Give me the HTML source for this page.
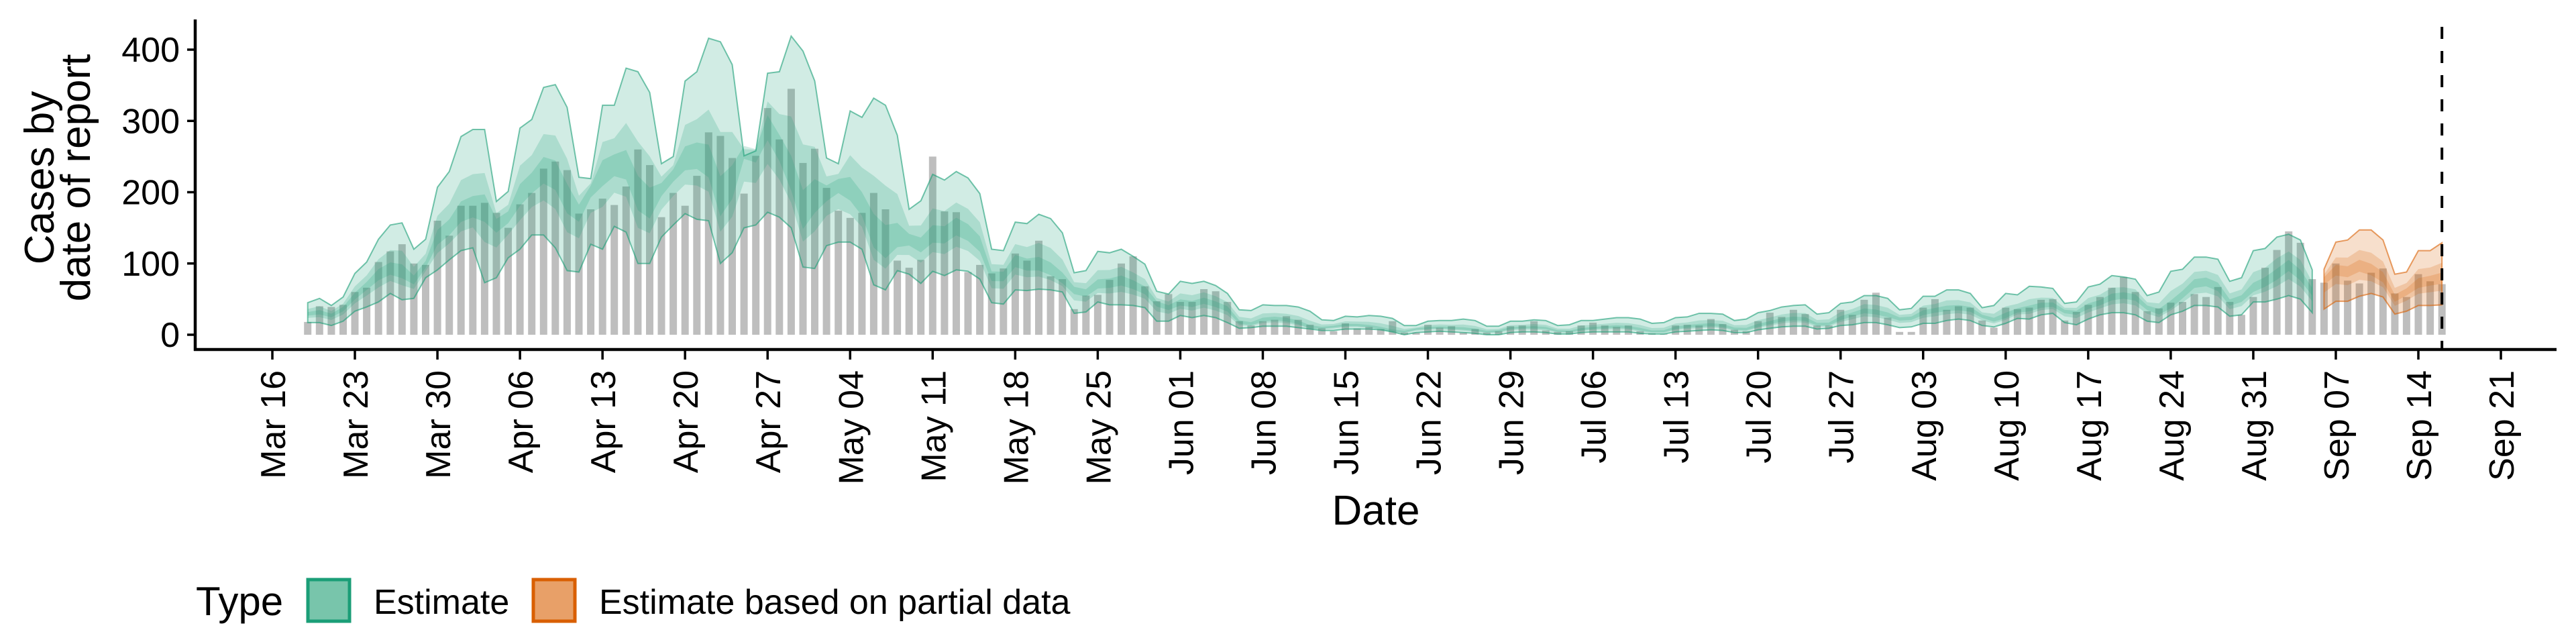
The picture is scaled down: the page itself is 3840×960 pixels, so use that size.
<!DOCTYPE html>
<html><head><meta charset="utf-8"><style>
html,body{margin:0;padding:0;background:#fff;}
svg{display:block;font-family:"Liberation Sans",Arial,sans-serif;}
</style></head><body>
<svg id="chart" width="3840" height="960" viewBox="0 0 3840 960" xmlns="http://www.w3.org/2000/svg">
<g id="bars"></g>
<g id="bands"></g>
<g id="axes"></g>
<text x="2051" y="782" font-size="62" text-anchor="middle">Date</text>
<text transform="translate(80,265) rotate(-90)" font-size="62" text-anchor="middle">Cases by</text>
<text transform="translate(134,265) rotate(-90)" font-size="62" text-anchor="middle">date of report</text>
<g>
<text x="292" y="917" font-size="60">Type</text>
<rect x="459" y="864" width="62" height="62" fill="#78c5ab" stroke="#1b9e77" stroke-width="5"/>
<text x="557" y="915" font-size="52">Estimate</text>
<rect x="795" y="864" width="62" height="62" fill="#e8a068" stroke="#d95f02" stroke-width="5"/>
<text x="893" y="915" font-size="52">Estimate based on partial data</text>
</g>
</svg>
<script>
const tickLabels = ["Mar 16","Mar 23","Mar 30","Apr 06","Apr 13","Apr 20","Apr 27","May 04","May 11","May 18","May 25","Jun 01","Jun 08","Jun 15","Jun 22","Jun 29","Jul 06","Jul 13","Jul 20","Jul 27","Aug 03","Aug 10","Aug 17","Aug 24","Aug 31","Sep 07","Sep 14","Sep 21"];
const yTicks = [0,100,200,300,400];
const firstDay = 3; // data starts Mar 19 (days after Mar 16)
const partialStartIndex = 171; // first index of "partial data" estimates
const reportDay = 184; // dashed line (Sep 16)
const cases = [18,40,39,42,60,66,102,117,127,100,98,160,139,181,181,185,171,150,183,199,233,243,231,170,176,191,182,208,260,238,165,199,181,223,284,279,248,198,251,318,274,345,241,261,206,174,164,171,199,176,104,94,105,
250,173,172,88,98,86,93,114,104,132,82,78,36,55,56,77,100,110,68,47,57,46,46,64,61,46,19,13,19,21,26,21,14,9,5,16,9,11,8,19,3,3,14,10,
12,3,8,3,5,12,13,19,6,4,5,13,17,13,11,13,5,2,1,13,14,13,22,15,7,5,19,31,25,35,29,13,13,35,28,49,59,24,4,4,38,50,
35,40,38,20,10,38,36,38,49,50,20,32,42,53,66,81,60,33,37,45,46,57,53,67,46,28,53,94,119,145,129,78,73,100,76,72,87,93,58,53,85,75,71];
const median = [29,31,27,36,53,68,83,90,86,75,97,134,147,167,174,177,157,167,194,211,228,221,188,174,207,228,238,234,191,177,207,228,244,248,234,181,207,268,261,295,261,214,160,188,201,214,201,177,134,117,130,134,125,
138,138,150,141,125,82,82,102,96,96,88,75,63,58,69,71,75,69,61,44,38,44,42,47,42,36,17,14,20,22,20,16,9,9,11,13,13,11,8,4,4,8,9,10,
9,8,6,4,5,9,10,10,9,5,4,7,9,10,11,10,7,4,4,9,11,12,13,12,8,7,12,16,20,22,21,14,14,22,28,33,31,27,22,23,30,34,
36,37,35,26,20,25,33,35,40,41,33,31,39,44,52,55,52,38,31,39,55,71,74,66,44,50,63,72,83,97,82,60,
78,91,88,96,89,78,50,60,71,75,78];
const upper90 = [45,51,41,53,86,102,134,154,157,120,134,207,229,278,288,288,187,201,290,302,347,351,319,221,219,322,322,374,369,340,240,250,356,369,416,411,379,251,258,367,369,419,398,356,248,240,314,305,332,322,280,176,188,
225,217,229,220,198,120,118,158,156,169,163,143,87,90,117,115,120,110,99,61,57,75,72,75,69,58,35,34,42,41,41,39,33,21,20,26,25,27,26,23,13,13,19,20,
20,22,20,12,12,19,19,21,20,13,14,20,20,22,24,24,22,16,17,24,25,30,30,29,20,22,31,34,39,41,42,29,31,44,46,55,55,51,35,37,54,54,
63,63,58,38,41,58,56,68,67,65,44,46,67,71,83,81,78,55,60,89,92,109,109,106,75,80,118,121,137,141,133,91,
92,130,133,147,147,133,85,88,118,118,129];
const lower90 = [17,17,13,19,33,39,46,58,49,51,80,91,105,118,122,73,80,108,120,140,140,122,90,88,127,120,152,144,100,100,137,154,170,162,160,100,115,150,154,172,165,150,95,93,125,130,130,120,70,63,90,85,72,
89,83,91,89,78,45,43,63,62,64,63,60,30,32,46,42,42,41,38,19,19,27,24,27,24,17,9,10,12,12,12,10,8,6,6,8,8,8,7,4,0,3,4,5,
4,3,2,0,0,3,4,4,3,1,1,3,4,4,4,4,2,1,1,4,5,6,7,6,3,3,7,9,11,12,12,8,9,13,14,17,17,14,10,11,16,16,
20,22,20,13,11,16,23,22,28,30,17,14,22,28,31,31,28,19,17,28,33,41,41,39,26,28,46,46,50,55,50,31,
36,47,47,54,58,53,29,33,41,41,42];

const NS = "http://www.w3.org/2000/svg";
const X0 = 406, DAY = 17.577, Y0 = 499, YPER = 1.0625;
function xScale(day){ return X0 + day*DAY; }
function yScale(v){ return Y0 - v*YPER; }
function mk(tag, attrs, parent){ const e=document.createElementNS(NS,tag); for(const k in attrs) e.setAttribute(k,attrs[k]); parent.appendChild(e); return e; }

const barsG = document.getElementById('bars');
cases.forEach((v,i)=>{
  const cx = xScale(firstDay+i);
  const r = mk('rect',{x:(cx-5.5).toFixed(1), y:yScale(v).toFixed(1), width:11, height:(v*YPER).toFixed(1), fill:'#bebebe'}, barsG);
  
  
});

const bandsG = document.getElementById('bands');
function band(i0,i1,fracUp,color,stroke,name){
  const up=[], lo=[];
  for(let i=i0;i<=i1;i++){
    const x=xScale(firstDay+i).toFixed(1);
    const m=median[i];
    up.push(x+','+yScale(m+(upper90[i]-m)*fracUp).toFixed(1));
    lo.unshift(x+','+yScale(m-(m-lower90[i])*fracUp).toFixed(1));
  }
  const p = mk('polygon',{points:up.concat(lo).join(' '), fill:color, 'fill-opacity':0.2}, bandsG);
  if(stroke){ p.setAttribute('stroke',color); p.setAttribute('stroke-opacity','0.6'); p.setAttribute('stroke-width','2'); }
  
  
}
[[1,true],[0.45,false],[0.18,false]].forEach(([f,s])=>{
  band(0, partialStartIndex-1, f, '#1b9e77', s, 'estimate-band');
  band(partialStartIndex, median.length-1, f, '#d95f02', s, 'partial-estimate-band');
});

const axesG = document.getElementById('axes');
const yAxis = mk('line',{x1:291,y1:29,x2:291,y2:523,stroke:'#000','stroke-width':4.5},axesG);


const xAxis = mk('line',{x1:289,y1:521,x2:3811,y2:521,stroke:'#000','stroke-width':4.5},axesG);


yTicks.forEach(t=>{
  const y=yScale(t);
  const tk = mk('line',{x1:279,y1:y,x2:291,y2:y,stroke:'#000','stroke-width':3.5},axesG);
  
  
  const lb = mk('text',{x:268,y:y+18,'font-size':52,'text-anchor':'end'},axesG);
  lb.textContent = t;
  
  
});
tickLabels.forEach((s,i)=>{
  const x=xScale(i*7);
  const tk = mk('line',{x1:x,y1:521,x2:x,y2:536,stroke:'#000','stroke-width':3.5},axesG);
  
  
  const lb = mk('text',{transform:`translate(${(x+19).toFixed(1)},552) rotate(-90)`,'font-size':52,'text-anchor':'end'},axesG);
  lb.textContent = s;
  
  
});
const dash = mk('line',{x1:xScale(reportDay),y1:40,x2:xScale(reportDay),y2:521,stroke:'#000','stroke-width':4,'stroke-dasharray':'18 18'},axesG);


</script>
</body></html>
